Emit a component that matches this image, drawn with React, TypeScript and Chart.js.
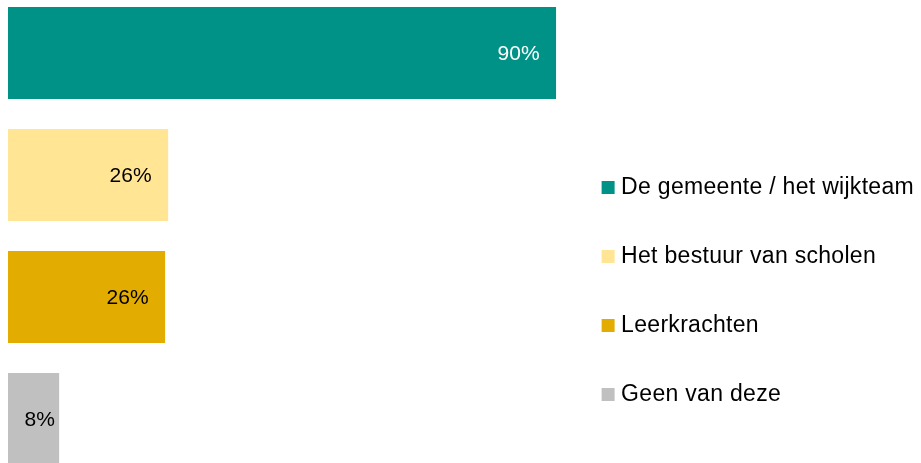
import React, { useEffect, useRef } from "react";
import { Chart, registerables } from "chart.js";

Chart.register(...registerables);

const categories = [
  "De gemeente / het wijkteam",
  "Het bestuur van scholen",
  "Leerkrachten",
  "Geen van deze",
];
const values = [90, 26.3, 25.8, 8.4];
const barColors = ["#009287", "#FFE594", "#E3AC00", "#C0C0C0"];
const valueLabelColors = ["#ffffff", "#000000", "#000000", "#000000"];

const FONT = '"Liberation Sans", Arial, Helvetica, sans-serif';

const spacingPlugin = {
  id: "spacingPlugin",
  beforeLayout(chart: any) {
    chart.ctx.letterSpacing = "0.3px";
  },
  beforeDraw(chart: any) {
    chart.ctx.letterSpacing = "0.3px";
  },
  afterDatasetsDraw(chart: any) {
    const ctx = chart.ctx;
    const meta = chart.getDatasetMeta(0);
    ctx.save();
    ctx.letterSpacing = "0px";
    ctx.font = `21px ${FONT}`;
    ctx.textAlign = "right";
    ctx.textBaseline = "middle";
    meta.data.forEach((bar: any, i: number) => {
      const { x, y, base } = bar.getProps(["x", "y", "base"], true);
      const text = `${Math.round(values[i])}%`;
      const w = ctx.measureText(text).width;
      const right = Math.max(x - 16.5, base + 16.5 + w);
      ctx.fillStyle = valueLabelColors[i];
      ctx.fillText(text, right, y + 1.5);
    });
    ctx.restore();
  },
};

export default function App() {
  const canvasRef = useRef<HTMLCanvasElement | null>(null);

  useEffect(() => {
    document.body.style.margin = "0";
    const canvas = canvasRef.current;
    if (!canvas) return;
    const chart = new Chart(canvas, {
      type: "bar",
      data: {
        labels: categories,
        datasets: [
          {
            data: values,
            backgroundColor: barColors,
            borderWidth: 0,
            barPercentage: 0.754,
            categoryPercentage: 1,
          },
        ],
      },
      options: {
        indexAxis: "y",
        responsive: false,
        animation: false,
        events: [],
        layout: { padding: { left: 8, right: 0, top: 0, bottom: 0 } },
        scales: {
          x: {
            min: 0,
            max: 90.75,
            display: true,
            ticks: { display: false },
            grid: { display: false },
            border: { display: false },
            afterFit: (scale: any) => {
              scale.height = 110;
            },
          },
          y: {
            display: false,
          },
        },
        plugins: {
          tooltip: { enabled: false },
          title: { display: false },
          legend: {
            display: true,
            position: "right",
            align: "center",
            onClick: () => {},
            labels: {
              boxWidth: 3,
              boxHeight: 3,
              padding: 46,
              color: "#000000",
              font: { family: FONT, size: 23 },
              generateLabels: () =>
                categories.map((c, i) => ({
                  text: c,
                  fillStyle: barColors[i],
                  strokeStyle: barColors[i],
                  lineWidth: 10,
                  hidden: false,
                  index: i,
                  fontColor: "#000000",
                })),
            },
          },
        },
      },
      plugins: [spacingPlugin],
    } as any);
    return () => {
      chart.destroy();
    };
  }, []);

  return (
    <div
      style={{
        position: "relative",
        width: 921,
        height: 463,
        overflow: "hidden",
        background: "#ffffff",
      }}
    >
      <canvas
        ref={canvasRef}
        width={924}
        height={598}
        style={{ position: "absolute", left: 0, top: -8, display: "block" }}
      />
    </div>
  );
}
